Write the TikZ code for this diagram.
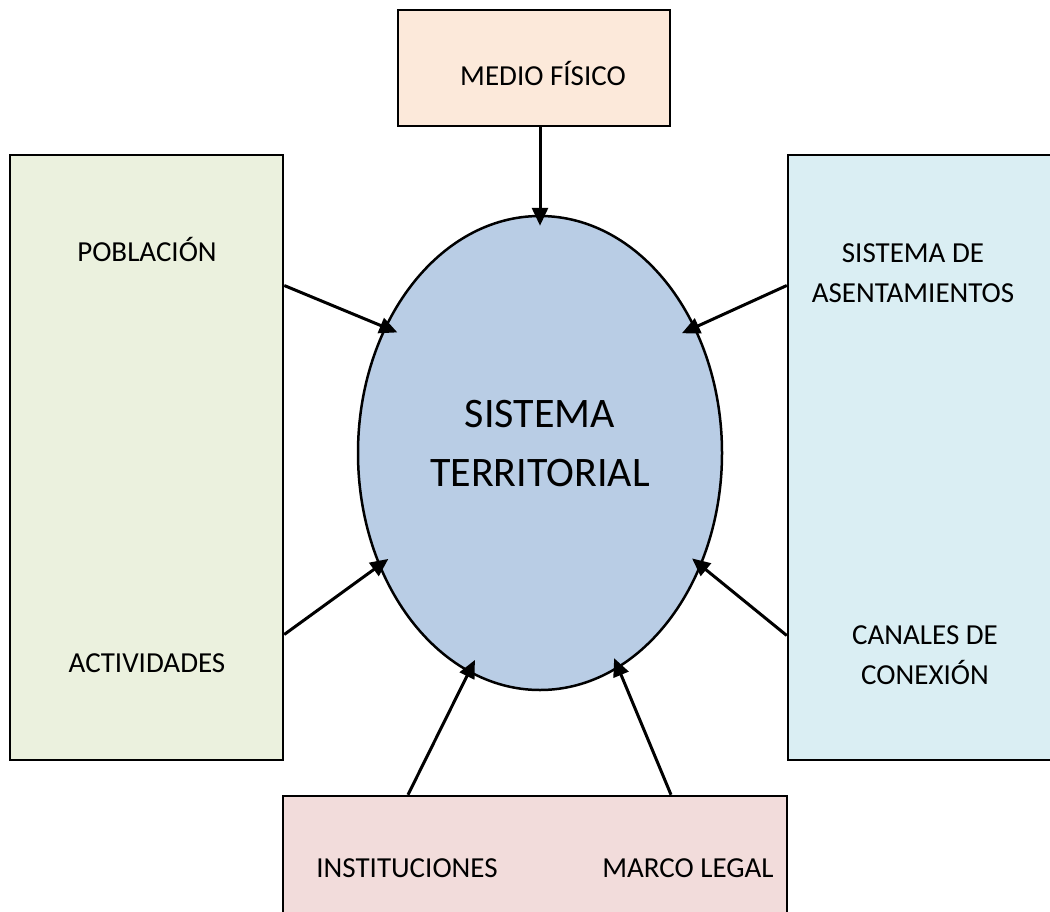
\documentclass[tikz,border=0pt]{standalone}
\usepackage{fontspec}
\setmainfont{Carlito}
\usetikzlibrary{arrows.meta,positioning,shapes.geometric}
\definecolor{peach}{HTML}{FCE9DA}
\definecolor{sage}{HTML}{EBF1DE}
\definecolor{aqua}{HTML}{DAEEF3}
\definecolor{rose}{HTML}{F2DCDB}
\definecolor{steel}{HTML}{B9CDE5}

\begin{document}
\begin{tikzpicture}[x=1pt,y=-1pt,
  box/.style={draw=black,line width=2.5pt,minimum width=273pt,inner sep=0pt},
  lbl/.style={font=\fontsize{29}{40}\selectfont,align=center,anchor=base,inner sep=0pt},
  link/.style={line width=3pt,-{Triangle[length=18pt,width=16pt]}}]
  \useasboundingbox (0,0) rectangle (1050,911);

  % Boxes round the system
  \node[box,fill=peach,minimum width=272pt,minimum height=116pt] (medio) at (534,68) {};
  \node[box,fill=sage,minimum height=605pt] (pobl) at (146.5,457.5) {};
  \node[box,fill=aqua,minimum height=605pt] (asent) at (924.5,457.5) {};
  \node[box,fill=rose,minimum width=504pt,minimum height=144pt] (inst) at (535,868) {};

  % Central ellipse
  \node[ellipse,draw,line width=2.5pt,fill=steel,minimum width=364pt,minimum height=474pt,inner sep=0pt] (terr) at (540,453) {};
  \node[lbl,font=\fontsize{42}{59}\selectfont] (tterr) at (540,486) {SISTEMA\\TERRITORIAL};

  % Labels
  \node[lbl] (tmedio) at (543,85) {MEDIO FÍSICO};
  \node[lbl] (tpobl) at (147,261) {POBLACIÓN};
  \node[lbl] (tact) at (147,672) {ACTIVIDADES};
  \node[lbl] (tasent) at (913,302) {SISTEMA DE\\ASENTAMIENTOS};
  \node[lbl] (tcanal) at (925,684) {CANALES DE\\CONEXIÓN};
  \node[lbl] (tinst) at (407,877) {INSTITUCIONES};
  \node[lbl] (tmarco) at (688,877) {MARCO LEGAL};

  % Arrows into the ellipse
  \draw[link,shorten >=-11pt] (terr.north |- medio.south) -- (terr.north);
  \draw[link,shorten >=-14pt] ([yshift=172pt]pobl.east) -- (terr.141);
  \draw[link,shorten >=-15pt] ([yshift=172pt]asent.west) -- (terr.39);
  \draw[link,shorten >=-12pt] ([yshift=-177pt]pobl.east) -- (terr.215);
  \draw[link,shorten >=-12pt] ([yshift=-178pt]asent.west) -- (terr.325);
  \draw[link,shorten >=-14pt] ([xshift=-127pt]inst.north) -- (terr.252);
  \draw[link,shorten >=-11pt] ([xshift=136pt]inst.north) -- (terr.290);
\end{tikzpicture}
\end{document}
